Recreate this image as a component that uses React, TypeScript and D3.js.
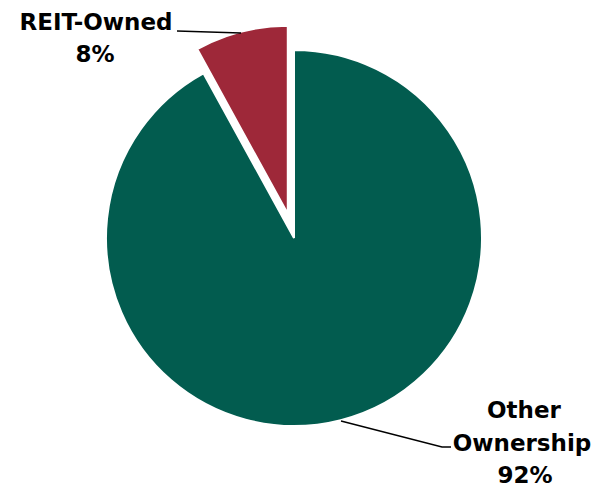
import React from "react";
import * as d3 from "d3";

const categories = ["Other Ownership", "REIT-Owned"];
const values = [92, 8];
const colors = ["#025C4F", "#9E2839"];

export default function App() {
  const width = 600;
  const height = 488;
  const cx = 294;
  const cy = 238;
  const r = 188;
  const explode = 25;

  const pie = d3
    .pie<number>()
    .sort(null)
    .value((d) => d);
  const arcs = pie(values);
  const arc = d3.arc<d3.PieArcDatum<number>>().innerRadius(0).outerRadius(r);

  return (
    <svg
      width={width}
      height={height}
      style={{ position: "absolute", left: 0, top: 0 }}
      fontFamily="'DejaVu Sans', sans-serif"
    >
      <g transform={`translate(${cx},${cy})`}>
        {arcs.map((a, i) => {
          const mid = (a.startAngle + a.endAngle) / 2;
          const off = i === 1 ? explode : 0;
          const dx = Math.sin(mid) * off;
          const dy = -Math.cos(mid) * off;
          return (
            <path
              key={categories[i]}
              d={arc(a) || ""}
              fill={colors[i]}
              stroke="#fff"
              strokeWidth={2}
              transform={`translate(${dx},${dy})`}
            />
          );
        })}
      </g>
      {/* leader lines */}
      <polyline
        points="177,31 241,33"
        fill="none"
        stroke="#000"
        strokeWidth={1.3}
      />
      <polyline
        points="341,421 442,447 451,447"
        fill="none"
        stroke="#000"
        strokeWidth={1.3}
      />
      <g fontWeight="bold" fontSize={23} fill="#000" textAnchor="middle">
        <text x={96} y={30}>
          {categories[1]}
        </text>
        <text x={95} y={62}>
          {`${values[1]}%`}
        </text>
        <text x={524} y={418}>
          Other
        </text>
        <text x={522} y={451}>
          Ownership
        </text>
        <text x={525} y={483}>
          {`${values[0]}%`}
        </text>
      </g>
    </svg>
  );
}
